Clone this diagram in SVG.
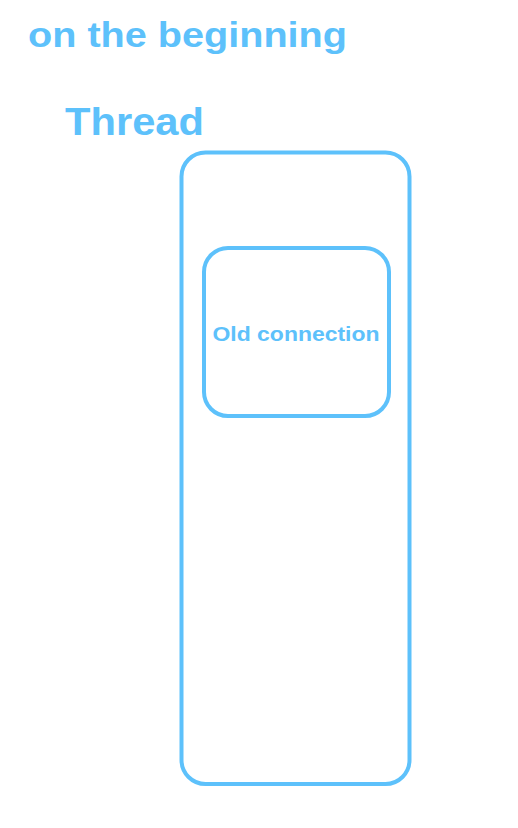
<svg xmlns="http://www.w3.org/2000/svg" width="518" height="828" viewBox="0 0 518 828">
<style>
.t{font-family:"Comic Sans MS","Liberation Sans","DejaVu Sans",sans-serif;font-weight:bold;fill:#5dc1fb}
.box{fill:none;stroke:#5dc1fb;stroke-width:4}
</style>
<rect width="518" height="828" fill="#fff"/>
<g id="title"><text class="t" x="28" y="47" font-size="35" textLength="319" lengthAdjust="spacingAndGlyphs">on the beginning</text></g>
<g id="thread-label"><text class="t" x="65" y="135" font-size="38" textLength="139" lengthAdjust="spacingAndGlyphs">Thread</text></g>
<g id="thread"><rect class="box" x="181.5" y="152.5" width="228" height="631.5" rx="24"/></g>
<g id="old-connection"><rect class="box" x="204" y="248" width="185" height="168" rx="24"/>
<text class="t" x="296" y="341" font-size="20" text-anchor="middle" textLength="167" lengthAdjust="spacingAndGlyphs">Old connection</text></g>
<g id="connectors"></g>
</svg>
